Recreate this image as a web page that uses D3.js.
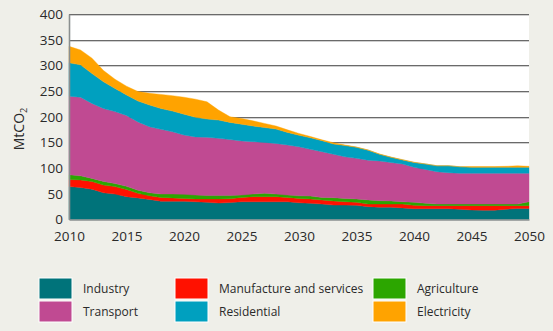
<!DOCTYPE html>
<html>
<head>
<meta charset="utf-8">
<script src="https://cdn.jsdelivr.net/npm/d3@7"></script>
<style>
  html, body { margin: 0; padding: 0; background: #efefe9; }
  svg { display: block; font-family: "Open Sans", sans-serif; }
</style>
</head>
<body>
<svg id="chart" width="553" height="331"></svg>
<script>
'use strict';

var years = d3.range(2010, 2051);
var seriesKeys = ['industry', 'manufacture', 'agriculture', 'transport', 'residential', 'electricity'];
var seriesLabels = ['Industry', 'Manufacture and services', 'Agriculture', 'Transport', 'Residential', 'Electricity'];
var seriesColors = ['#00737a', '#ff1100', '#2ca600', '#c04a92', '#00a0bf', '#ffa300'];
var yTicks = [0, 50, 100, 150, 200, 250, 300, 350, 400];
var xTicks = [2010, 2015, 2020, 2025, 2030, 2035, 2040, 2045, 2050];

// MtCO2 by sector, 2010..2050
var industry = [64, 62.5, 59, 52, 49.5, 44.5, 42, 39, 35.5, 35.5, 35.5, 34.5, 33.5, 32, 33, 34.5, 34.5, 34.5, 34.5, 34.5,
  32.5, 31.5, 30, 28, 28, 27.5, 25, 24, 24, 22.5, 21, 21, 21, 21, 20, 18.5, 18, 18, 20, 21.5, 21.5];
var manufacture = [14, 14.5, 15, 15, 14.5, 14, 9, 7, 7.5, 6.5, 5.5, 5.5, 6.5, 8, 7.5, 8.5, 10, 10, 10, 8.5,
  8.5, 8.5, 8, 8, 6.5, 6, 5, 6, 6, 7.5, 6.5, 6, 6, 6, 7, 8.5, 9, 9, 7, 5.5, 5.5];
var agriculture = [9, 8, 6, 7, 6, 6, 6, 6, 6.5, 7.5, 8, 7.5, 6.5, 6.5, 6, 4.5, 5, 6.5, 5, 4.5,
  5, 5.5, 5, 6.5, 6.5, 6.5, 8, 6.5, 6, 4.5, 6, 4.5, 3, 3, 3, 3, 3, 3, 3, 3, 7.5];
var transport = [153, 153, 146, 142, 140, 138, 133, 128.5, 126, 121.3, 115.4, 113.3, 113.5, 111.5, 109, 105.5, 102, 99, 98.5, 97.5,
  95.5, 91, 89, 84.5, 81, 79, 77.5, 77.5, 75, 73.5, 68, 66, 63, 61, 60, 60, 60, 60, 60, 60, 55.5];
var residential = [65, 63, 58, 52, 45, 40, 40.5, 42.3, 40.5, 40.2, 40.6, 38, 35.5, 35.5, 33.5, 32.5, 30.5, 29, 28, 24.5,
  22.5, 22.5, 21.5, 20, 22, 21.5, 19.5, 13, 10, 8, 9.5, 10.5, 11.5, 13.5, 12.5, 11.5, 11.5, 11.5, 11.5, 11.5, 11.5];
var electricity = [32, 29, 30, 22, 18, 17, 18.5, 22.7, 27.5, 30, 33, 35.4, 33.5, 19.5, 11, 11, 10, 8, 6, 5,
  3.5, 2.5, 1.5, 2.5, 1, 0.5, 0.5, 0.5, 0.5, 0.5, 0.5, 0.2, 0.2, 0.3, 0.3, 1.5, 1.5, 1.5, 2, 3, 2];

var rows = years.map(function (yr, i) {
  return {
    year: yr,
    industry: industry[i],
    manufacture: manufacture[i],
    agriculture: agriculture[i],
    transport: transport[i],
    residential: residential[i],
    electricity: electricity[i]
  };
});

var svg = d3.select('#chart'),
    plot = { left: 69, right: 529, top: 14, bottom: 219.5 };

var x = d3.scaleLinear().domain([2010, 2050]).range([plot.left, plot.right]),
    y = d3.scaleLinear().domain([0, 400]).range([plot.bottom, plot.top]);

// plot background
svg.append('rect')
  .attr('x', plot.left).attr('y', plot.top)
  .attr('width', plot.right - plot.left).attr('height', plot.bottom - plot.top)
  .attr('fill', '#fff');

// gridlines: dark line with a pale line beneath
var grid = svg.append('g');
grid.selectAll('line.light').data(yTicks.slice(1)).enter().append('line')
  .attr('class', 'light')
  .attr('x1', plot.left).attr('x2', plot.right)
  .attr('y1', function (d) { return Math.round(y(d)) + 1.5; })
  .attr('y2', function (d) { return Math.round(y(d)) + 1.5; })
  .attr('stroke', '#cfcfcf').attr('stroke-width', 1);
grid.selectAll('line.dark').data(yTicks.slice(1)).enter().append('line')
  .attr('class', 'dark')
  .attr('x1', plot.left).attr('x2', plot.right)
  .attr('y1', function (d) { return Math.round(y(d)) + 0.5; })
  .attr('y2', function (d) { return Math.round(y(d)) + 0.5; })
  .attr('stroke', '#6a6a6a').attr('stroke-width', 1);

// stacked areas
var stacked = d3.stack().keys(seriesKeys)(rows);
var area = d3.area()
  .x(function (d) { return x(d.data.year); })
  .y0(function (d) { return y(d[0]); })
  .y1(function (d) { return y(d[1]); });

svg.append('g').selectAll('path').data(stacked).enter().append('path')
  .attr('d', area)
  .attr('fill', function (d, i) { return seriesColors[i]; })
  .attr('stroke', function (d, i) { return seriesColors[i]; })
  .attr('stroke-width', 0.4);

// axes
var yAxis = d3.axisLeft(y).tickValues(yTicks).tickSize(0).tickPadding(6);
var xAxis = d3.axisBottom(x).tickValues(xTicks).tickSize(0).tickPadding(12).tickFormat(d3.format('d'));

var gy = svg.append('g').attr('transform', 'translate(' + plot.left + ',0)').call(yAxis);
var gx = svg.append('g').attr('transform', 'translate(0,' + plot.bottom + ')').call(xAxis);

[gy, gx].forEach(function (g) {
  g.select('.domain').attr('stroke', '#8a8f8f').attr('stroke-width', 1.6);
  g.selectAll('text').attr('font-size', 13.5).attr('fill', '#2a2a2a')
    .attr('font-family', '"Open Sans", sans-serif');
});

// y label
var ylab = svg.append('text')
  .attr('transform', 'translate(24,129) rotate(-90)')
  .attr('text-anchor', 'middle')
  .attr('font-size', 14).attr('fill', '#2a2a2a');
ylab.append('tspan').text('MtCO');
ylab.append('tspan').text('2').attr('font-size', 9).attr('dy', 3);

// legend
var legendCols = [39, 175, 373],
    legendRows = [278, 301];

var legend = svg.append('g').selectAll('g').data(seriesLabels).enter().append('g')
  .attr('transform', function (d, i) {
    return 'translate(' + legendCols[i % 3] + ',' + legendRows[Math.floor(i / 3)] + ')';
  });

legend.append('rect')
  .attr('width', 33).attr('height', 21)
  .attr('fill', function (d, i) { return seriesColors[i]; })
  .attr('stroke', '#fff').attr('stroke-width', 1);

legend.append('text')
  .attr('x', 44).attr('y', 11)
  .attr('dy', '0.35em')
  .attr('font-size', 12).attr('fill', '#2a2a2a')
  .text(function (d) { return d; });
</script>
</body>
</html>
